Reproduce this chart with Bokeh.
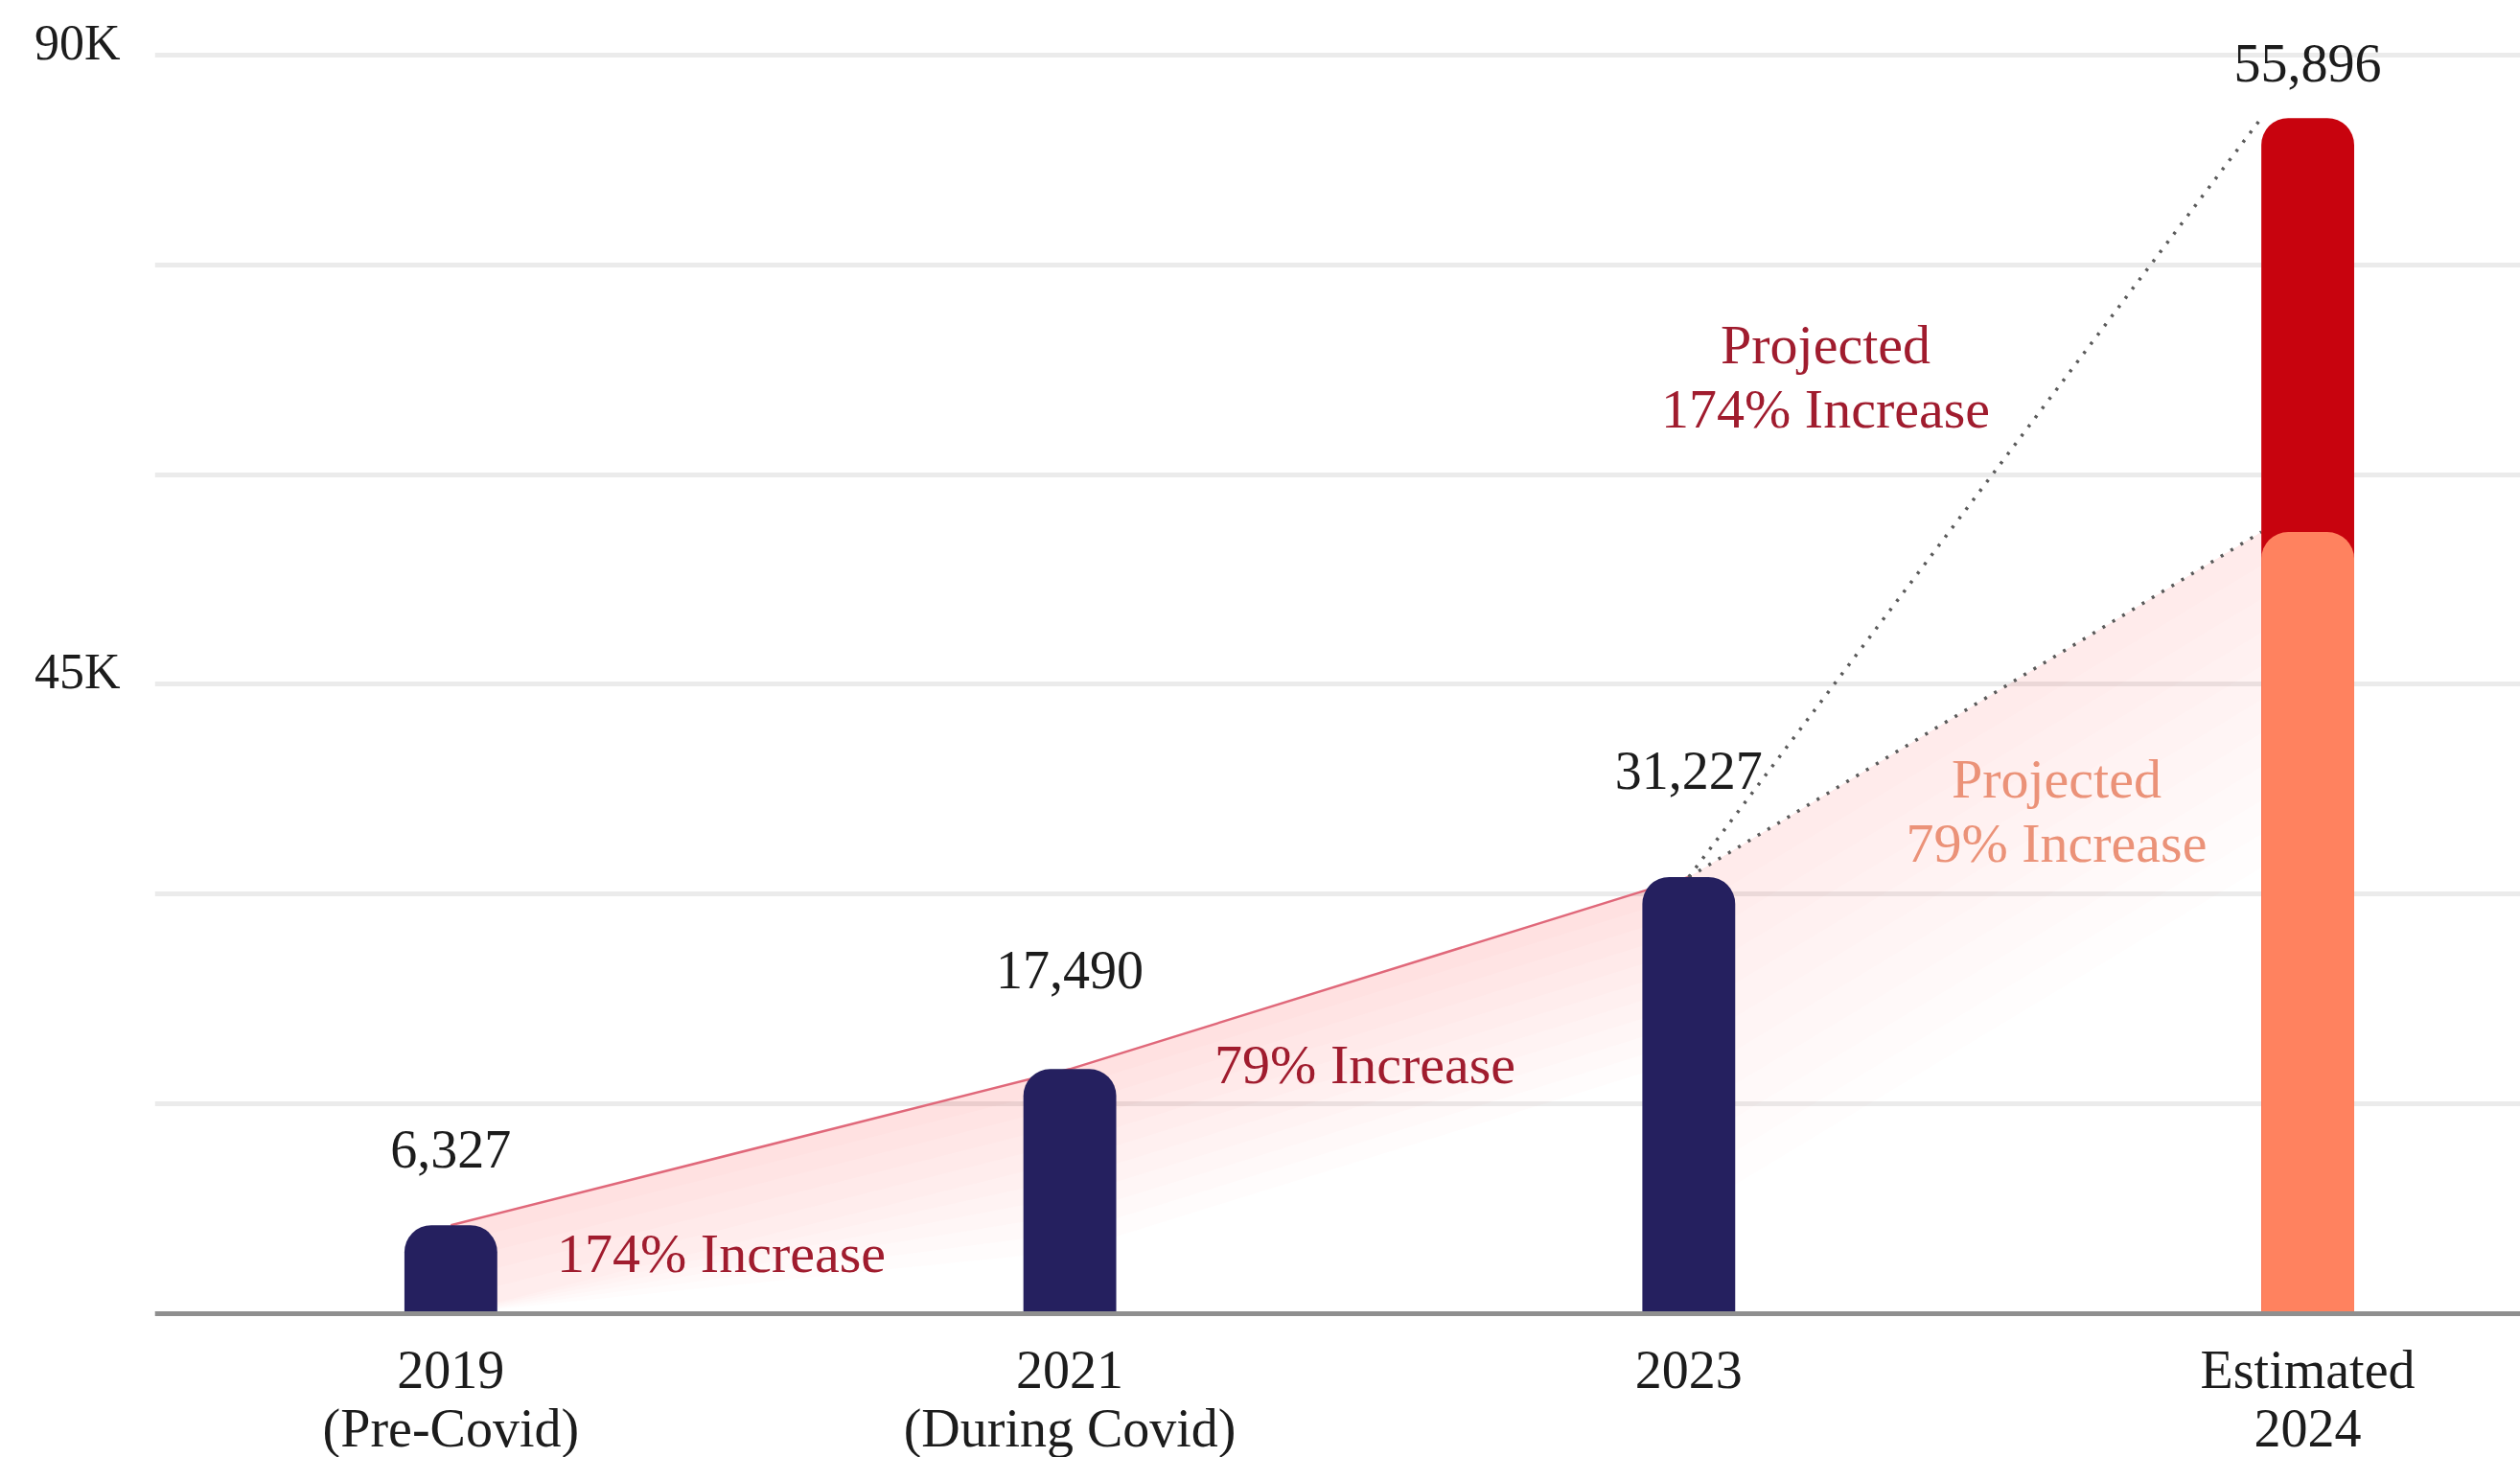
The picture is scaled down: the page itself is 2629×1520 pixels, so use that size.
from bokeh.plotting import figure
from bokeh.models import ColumnDataSource, LabelSet, Span, FixedTicker
from bokeh.core.properties import value
from bokeh.embed import file_html
from bokeh.resources import INLINE

# ---------------- data ----------------
categories = ["2019\n(Pre-Covid)", "2021\n(During Covid)", "2023", "Estimated\n2024"]
actual_values = [6327, 17490, 31227]          # 2019, 2021, 2023
projected_low = 55896                          # Estimated 2024, 79% increase
projected_high = 85500                         # Estimated 2024, 174% increase (bar height)
value_labels = ["6,327", "17,490", "31,227", "55,896"]
grid_values = [0, 15000, 30000, 45000, 60000, 75000, 90000]
y_tick_values = [45000, 90000]
y_tick_labels = ["45K", "90K"]
growth_texts = ["174% Increase", "79% Increase"]
projection_high_text = "Projected\n174% Increase"
projection_low_text = "Projected\n79% Increase"

# ---------------- layout / style ----------------
FONT = "Liberation Serif"
NAVY = "#25205f"
RED = "#c8030e"
ORANGE = "#ff825f"
DARK_RED_TXT = "#a01c2e"
SALMON_TXT = "#eb9278"
TXT = "#1c1c1c"
label_offsets_px = [60, 84, 92, 38]
TICK_LABEL_RAISE_PX = 13

PX = 218.8 / 15000.0  # pixels per unit
xs = list(range(len(categories)))
bw = 0.15

p = figure(width=2629, height=1520,
           x_range=(-0.4783, 3.3437),
           y_range=(-150 / PX, 90000 + 57 / PX),
           output_backend="svg", toolbar_location=None,
           x_axis_location=None,
           min_border_left=161, min_border_right=0,
           min_border_top=0, min_border_bottom=0)
p.outline_line_color = None
p.background_fill_color = "white"
p.border_fill_color = "white"
p.xgrid.grid_line_color = None

p.ygrid.ticker = FixedTicker(ticks=grid_values)
p.ygrid.grid_line_color = "#ebebeb"
p.ygrid.grid_line_width = 5

# tick labels sit slightly above their gridlines, as in the reference
raise_units = int(round(TICK_LABEL_RAISE_PX / PX))
label_ticks = [v + raise_units for v in y_tick_values]
ax = p.yaxis[0]
ax.ticker = FixedTicker(ticks=label_ticks)
ax.major_label_overrides = {t: s for t, s in zip(label_ticks, y_tick_labels)}
ax.axis_line_color = None
ax.major_tick_line_color = None
ax.minor_tick_line_color = None
ax.major_tick_out = 0
ax.major_tick_in = 0
ax.major_label_standoff = 36
ax.major_label_text_font = FONT
ax.major_label_text_font_size = "52px"
ax.major_label_text_color = TXT

# ---------------- gradient-like pink fills ----------------
def stacked_fill(line_x, line_y, n=10, step=1300, color="#ee6676", alpha=0.02):
    for k in range(n):
        d = (k + 1) * step
        px_ = list(line_x) + list(reversed(line_x))
        py_ = list(line_y) + [max(0.0, y - d) for y in reversed(line_y)]
        p.patch(px_, py_, fill_color=color, fill_alpha=alpha, line_color=None)

stacked_fill(xs[:3], actual_values)
stacked_fill([xs[2], xs[3] - bw / 2], [actual_values[2], projected_low],
             n=10, step=2400, alpha=0.011)

# ---------------- lines ----------------
p.line(xs[:3], actual_values, line_color="#e0687a", line_width=2.5)
p.line([xs[2], xs[3] - bw / 2], [actual_values[2], projected_high],
       line_color="#5a5a5a", line_width=3.5, line_dash="3 9")
p.line([xs[2], xs[3] - bw / 2], [actual_values[2], projected_low],
       line_color="#5a5a5a", line_width=3.5, line_dash="3 9")

# ---------------- bars ----------------
p.vbar(x=[xs[3]], top=[projected_high], width=bw, fill_color=RED, line_color=None,
       border_radius=(28, 28, 0, 0))
p.vbar(x=[xs[3]], top=[projected_low], width=bw, fill_color=ORANGE, line_color=None,
       border_radius=(28, 28, 0, 0))
p.vbar(x=xs[:3], top=actual_values, width=bw, fill_color=NAVY, line_color=None,
       border_radius=(28, 28, 0, 0))

# baseline
p.add_layout(Span(location=0, dimension="width", line_color="#8f8f8f", line_width=5))

# ---------------- value labels ----------------
val_src = ColumnDataSource(dict(
    x=xs, y=actual_values + [projected_high], text=value_labels,
    off=label_offsets_px))
p.add_layout(LabelSet(x="x", y="y", text="text", y_offset="off", source=val_src,
                      text_align="center", text_baseline="alphabetic",
                      text_font=value(FONT), text_font_size="56px", text_color=TXT))

# ---------------- category labels ----------------
cx, cy, ct, co = [], [], [], []
for x, cat in zip(xs, categories):
    for j, line in enumerate(cat.split("\n")):
        cx.append(x)
        cy.append(0)
        ct.append(line)
        co.append(-(78 + 61 * j))
cat_src = ColumnDataSource(dict(x=cx, y=cy, text=ct, off=co))
p.add_layout(LabelSet(x="x", y="y", text="text", y_offset="off", source=cat_src,
                      text_align="center", text_baseline="alphabetic",
                      text_font=value(FONT), text_font_size="56px", text_color=TXT))

# ---------------- annotations ----------------
ann_x, ann_y, ann_t, ann_c, ann_o = [], [], [], [], []
def add_text(x, y, text, color):
    lines = text.split("\n")
    n = len(lines)
    for j, line in enumerate(lines):
        ann_x.append(x)
        ann_y.append(y)
        ann_t.append(line)
        ann_c.append(color)
        ann_o.append(67 * (n - 1 - j))

add_text(0.437, 2950, growth_texts[0], DARK_RED_TXT)
add_text(1.477, 16450, growth_texts[1], DARK_RED_TXT)
add_text(2.221, 63345, projection_high_text, DARK_RED_TXT)
add_text(2.594, 32290, projection_low_text, SALMON_TXT)
ann_src = ColumnDataSource(dict(x=ann_x, y=ann_y, text=ann_t, color=ann_c, off=ann_o))
p.add_layout(LabelSet(x="x", y="y", text="text", y_offset="off", source=ann_src,
                      text_align="center", text_baseline="alphabetic",
                      text_font=value(FONT), text_font_size="58px", text_color="color"))

open("out.html", "w").write(file_html(p, INLINE))
